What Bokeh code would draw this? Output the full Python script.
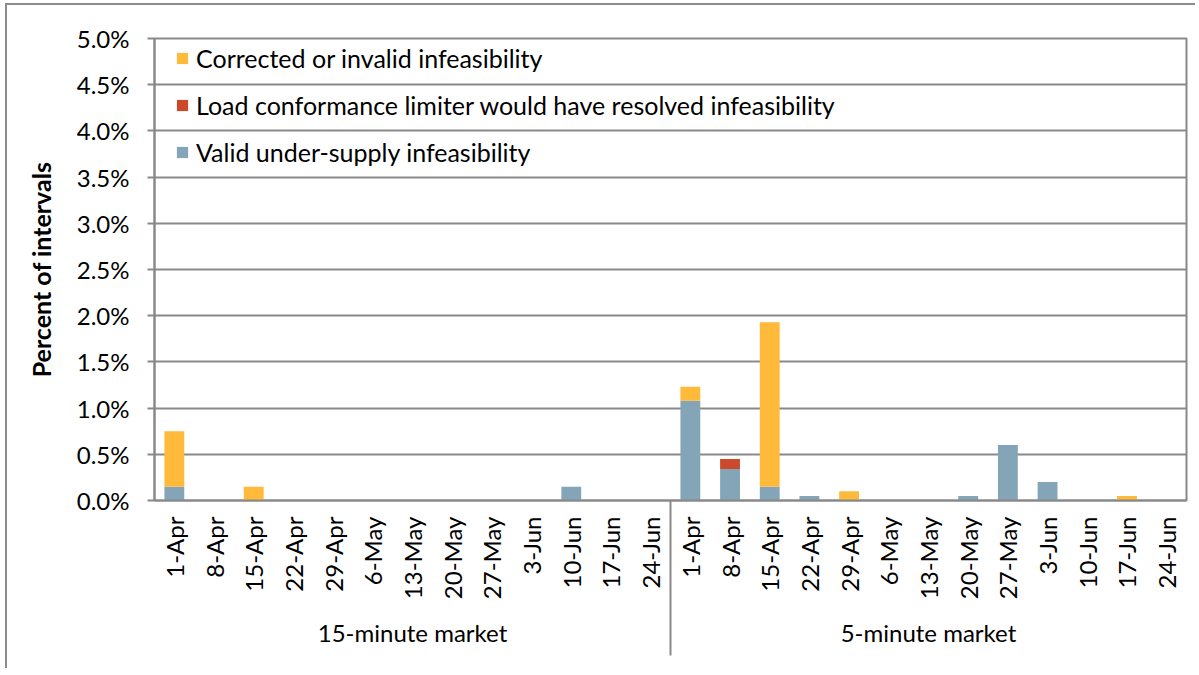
import math
from bokeh.plotting import figure
from bokeh.models import (FactorRange, Range1d, FixedTicker, PrintfTickFormatter,
                          Legend, LegendItem, CategoricalAxis, ColumnDataSource)
from bokeh.embed import file_html
from bokeh.resources import INLINE

# ---------------- data (percent of intervals) ----------------
markets = ["15-minute market", "5-minute market"]
dates = ["1-Apr", "8-Apr", "15-Apr", "22-Apr", "29-Apr", "6-May", "13-May",
         "20-May", "27-May", "3-Jun", "10-Jun", "17-Jun", "24-Jun"]

valid_15 = [0.15, 0, 0, 0, 0, 0, 0, 0, 0, 0, 0.15, 0, 0]
load_15 = [0, 0, 0, 0, 0, 0, 0, 0, 0, 0, 0, 0, 0]
corrected_15 = [0.60, 0, 0.15, 0, 0, 0, 0, 0, 0, 0, 0, 0, 0]

valid_5 = [1.08, 0.34, 0.15, 0.05, 0, 0, 0, 0.05, 0.60, 0.20, 0, 0, 0]
load_5 = [0, 0.11, 0, 0, 0, 0, 0, 0, 0, 0, 0, 0, 0]
corrected_5 = [0.15, 0, 1.78, 0, 0.10, 0, 0, 0, 0, 0, 0, 0.05, 0]

series_names = ["Valid under-supply infeasibility",
                "Load conformance limiter would have resolved infeasibility",
                "Corrected or invalid infeasibility"]
series_colors = ["#84A5B8", "#CB4A2B", "#FFB93B"]

y_ticks = [0.0, 0.5, 1.0, 1.5, 2.0, 2.5, 3.0, 3.5, 4.0, 4.5, 5.0]

# ---------------- build ----------------
factors = [(m, d) for m in markets for d in dates]
source = ColumnDataSource(dict(
    x=factors,
    valid=valid_15 + valid_5,
    load=load_15 + load_5,
    corrected=corrected_15 + corrected_5,
))

FONT = "Lato"
GRID = "#898989"
W, H = 1190, 665
LEFT, RIGHT, TOP, BOTTOM = 147, 11, 33, 170
SEP_IN = 150          # length of divider ticks reaching up to the frame
SEP_TOTAL = 155       # total divider length below the frame

p = figure(width=W, height=H, output_backend="svg", toolbar_location=None,
           x_range=FactorRange(*factors, factor_padding=0, group_padding=0,
                               subgroup_padding=0, range_padding=0),
           y_range=Range1d(0, 5),
           min_border_left=LEFT, min_border_right=RIGHT,
           min_border_top=TOP, min_border_bottom=BOTTOM,
           styles={"border-left": "2px solid #8c8c8c",
                   "border-top": "2px solid #8c8c8c",
                   "margin-left": "5px", "margin-top": "3px"})

rs = p.vbar_stack(["valid", "load", "corrected"], x="x", width=0.5,
                  color=series_colors, line_color=None, source=source)

legend = Legend(items=[LegendItem(label=series_names[2], renderers=[rs[2]]),
                       LegendItem(label=series_names[1], renderers=[rs[1]]),
                       LegendItem(label=series_names[0], renderers=[rs[0]])],
                location=(21, 333), orientation="vertical")
legend.margin = 0
legend.padding = 0
legend.spacing = 17
legend.glyph_width = 14
legend.glyph_height = 14
legend.label_height = 30
legend.label_standoff = 7
legend.label_text_font = FONT
legend.label_text_font_size = "25px"
legend.label_text_color = "#000000"
legend.border_line_color = None
legend.background_fill_alpha = 0
p.add_layout(legend)

# y axis
p.yaxis.ticker = FixedTicker(ticks=y_ticks)
p.yaxis.formatter = PrintfTickFormatter(format="%.1f%%")
p.yaxis.axis_label = "Percent of intervals"
p.yaxis.axis_label_text_font = FONT
p.yaxis.axis_label_text_font_style = "bold"
p.yaxis.axis_label_text_font_size = "25px"
p.yaxis.axis_label_text_color = "#000000"
p.yaxis.axis_label_standoff = 18
p.yaxis.major_label_text_font = FONT
p.yaxis.major_label_text_font_size = "24px"
p.yaxis.major_label_text_color = "#000000"
p.yaxis.major_label_standoff = 18
p.yaxis.axis_line_color = GRID
p.yaxis.axis_line_width = 2
p.yaxis.major_tick_line_color = GRID
p.yaxis.major_tick_line_width = 2
p.yaxis.major_tick_out = 7
p.yaxis.major_tick_in = 0
p.yaxis.minor_tick_line_color = None

# x axis (two-level category axis)
p.xaxis.major_label_orientation = math.pi / 2
p.xaxis.major_label_text_font = FONT
p.xaxis.major_label_text_font_size = "24px"
p.xaxis.major_label_text_color = "#000000"
p.xaxis.major_label_standoff = 16
p.xaxis.group_text_font = FONT
p.xaxis.group_text_font_size = "24px"
p.xaxis.group_text_font_style = "normal"
p.xaxis.group_text_color = "#000000"
p.xaxis.axis_line_color = GRID
p.xaxis.axis_line_width = 2
p.xaxis.major_tick_line_color = None
p.xaxis.major_tick_out = 0
p.xaxis.major_tick_in = 0
p.xaxis.minor_tick_line_color = None
p.xaxis.separator_line_color = None

# divider lines of the category axis: left edge, group boundary, right edge.
# A helper factor range whose three factor centres fall on those boundaries.
p.extra_x_ranges = {"sep": FactorRange("left", "mid", "right", factor_padding=0,
                                       range_padding=-0.996, range_padding_units="absolute")}
sep_axis = CategoricalAxis(x_range_name="sep",
                           major_tick_in=SEP_IN, major_tick_out=SEP_TOTAL - SEP_IN,
                           major_tick_line_color=GRID, major_tick_line_width=2,
                           minor_tick_line_color=None, axis_line_color=None,
                           major_label_text_color=None, major_label_text_font_size="1px",
                           major_label_standoff=0)
p.add_layout(sep_axis, "below")

# grid / frame
p.xgrid.grid_line_color = None
p.ygrid.grid_line_color = GRID
p.ygrid.grid_line_width = 2
p.outline_line_color = GRID
p.outline_line_width = 2
p.background_fill_color = "white"
p.border_fill_color = "white"

open("out.html", "w").write(file_html(p, INLINE))
